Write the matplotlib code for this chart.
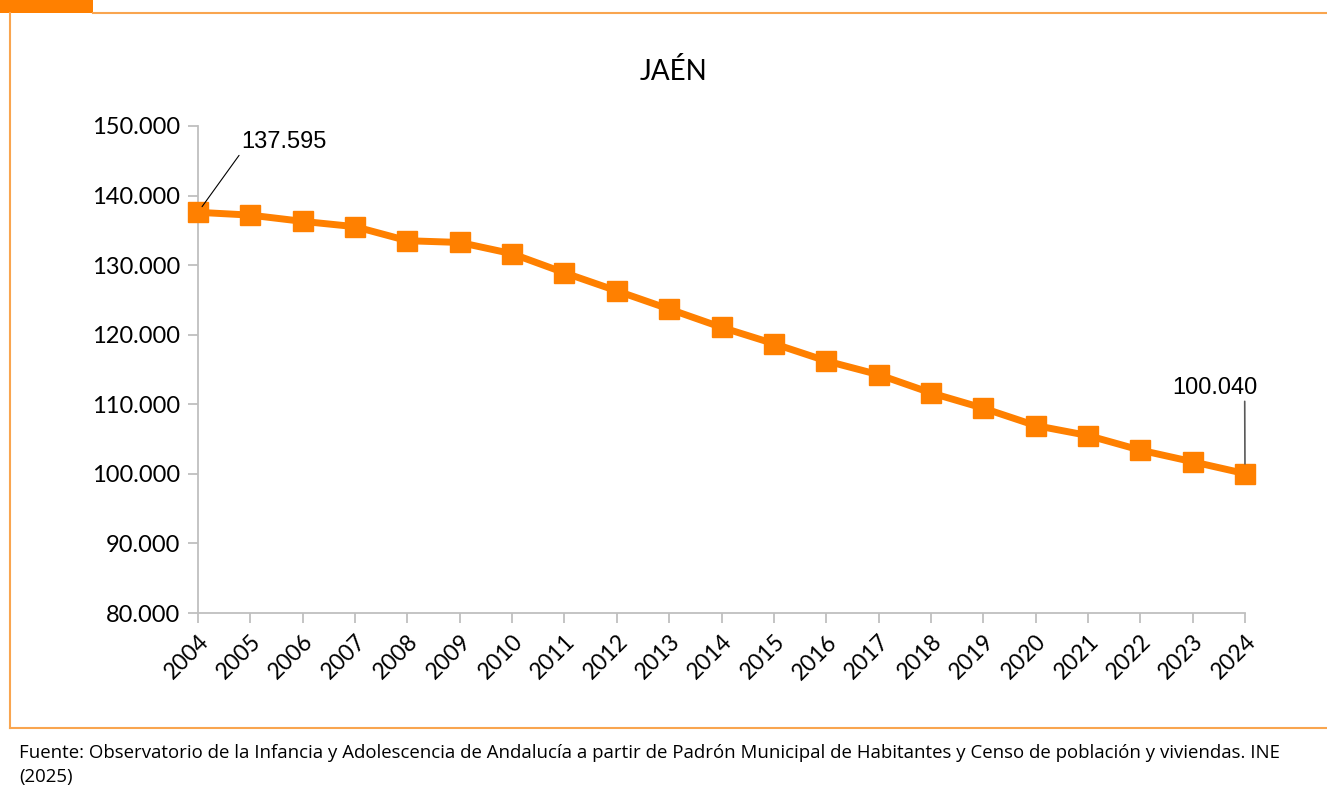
import matplotlib.pyplot as plt
from matplotlib.lines import Line2D
from matplotlib.patches import Rectangle

years = list(range(2004, 2025))
poblacion = [137595, 137190, 136290, 135530, 133510, 133260, 131640, 128900,
             126300, 123690, 121060, 118710, 116230, 114260, 111640, 109440,
             106940, 105510, 103410, 101740, 100040]
yticks = [80000, 90000, 100000, 110000, 120000, 130000, 140000, 150000]
titulo = "JAÉN"
fuente = ["Fuente: Observatorio de la Infancia y Adolescencia de Andalucía a partir de "
          "Padrón Municipal de Habitantes y Censo de población y viviendas. INE",
          "(2025)"]

naranja = "#FF8000"
borde = "#F9A54F"
gris = "#BFBFBF"


def miles(v):
    return f"{v:,.0f}".replace(",", ".")


fig = plt.figure(figsize=(13.27, 7.89), dpi=100)
ax = fig.add_axes([198 / 1327, 1 - 613 / 789, (1245 - 198) / 1327, (613 - 126) / 789])

ax.plot(years, poblacion, color=naranja, lw=5, marker="s", ms=14,
        mec=naranja, clip_on=False, zorder=3)

ax.set_xlim(years[0], years[-1])
ax.set_ylim(yticks[0], yticks[-1])
ax.set_xticks(years)
ax.set_xticklabels([str(y) for y in years], rotation=45, ha="right",
                   rotation_mode="anchor", family="Lato", fontsize=16.5)
ax.set_yticks(yticks)
ax.set_yticklabels([miles(v) for v in yticks], family="Lato", fontsize=17)
ax.tick_params(axis="both", color=gris, length=7, width=1.3)
ax.tick_params(axis="x", pad=6)
ax.tick_params(axis="y", pad=6)
for s in ["top", "right"]:
    ax.spines[s].set_visible(False)
for s in ["left", "bottom"]:
    ax.spines[s].set_color(gris)
    ax.spines[s].set_linewidth(1.3)

# etiquetas de primer y último valor
ax.annotate(miles(poblacion[0]), xy=(years[0], poblacion[0]), xytext=(31, 43),
            textcoords="offset points", family="Liberation Sans", fontsize=17,
            ha="left", va="bottom",
            arrowprops=dict(arrowstyle="-", color="black", lw=0.8,
                            relpos=(0, 0), shrinkA=0, shrinkB=5))
ax.annotate(miles(poblacion[-1]), xy=(years[-1], poblacion[-1]), xytext=(9, 54),
            textcoords="offset points", family="Liberation Sans", fontsize=17,
            ha="right", va="bottom",
            arrowprops=dict(arrowstyle="-", color="#595959", lw=1.2,
                            relpos=(0.85, 0), shrinkA=0, shrinkB=7))

fig.text(673 / 1327, 1 - 72 / 789, titulo, ha="center", va="center",
         family="Lato", fontsize=20)

# marco naranja
fig.add_artist(Rectangle((0, 1 - 13 / 789), 93 / 1327, 13 / 789,
                         transform=fig.transFigure, color=naranja, lw=0))
fig.add_artist(Line2D([93 / 1327, 1], [1 - 13 / 789] * 2, color=borde, lw=1.5))
fig.add_artist(Line2D([10 / 1327] * 2, [1 - 13 / 789, 1 - 728 / 789], color=borde, lw=1.5))
fig.add_artist(Line2D([10 / 1327, 1], [1 - 728 / 789] * 2, color=borde, lw=1.5))

for i, linea in enumerate(fuente):
    fig.text(19 / 1327, 1 - (758 + 24 * i) / 789, linea, ha="left", va="baseline",
             family="Open Sans", fontsize=13.4)

fig.savefig("out.png", dpi=100)
